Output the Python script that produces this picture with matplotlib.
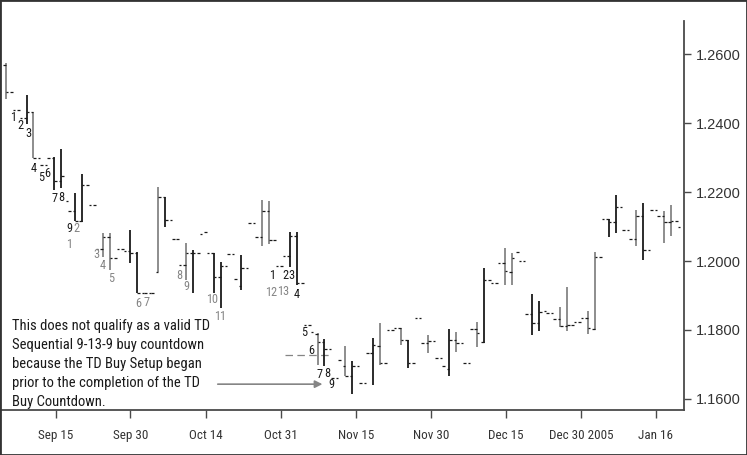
import numpy as np
import matplotlib
matplotlib.use('Agg')
import matplotlib.pyplot as plt
from matplotlib import font_manager
from matplotlib.font_manager import FontProperties
from matplotlib.patches import Rectangle

# EUR/USD daily bars, Sep 2004 - Jan 2005
opens = [1.2568, 1.2490, 1.2438, 1.2414, 1.2432, 1.2299, 1.2278, 1.2299, 1.2232, 1.2174,
         1.2145, 1.2116, 1.2220, 1.2162, 1.2035, 1.2070, 1.2009, 1.2035, 1.2029, 1.2023,
         1.1907, 1.1907, 1.1968, 1.2186, 1.2119, 1.2064, 1.1988, 1.2023, 1.2023, 1.2084,
         1.2023, 1.1954, 1.1986, 1.2020, 1.1928, 1.1980, 1.2110, 1.2070, 1.2145, 1.2061,
         1.1986, 1.2014, 1.2072, 1.1936, 1.1814, 1.1788, 1.1765, 1.1745, 1.1661, 1.1696,
         1.1667, 1.1696, 1.1646, 1.1733, 1.1754, 1.1704, 1.1800, 1.1806, 1.1771, 1.1704,
         1.1835, 1.1762, 1.1768, 1.1719, 1.1687, 1.1771, 1.1762, 1.1704, 1.1803, 1.1765,
         1.1945, 1.1936, 1.1994, 1.1968, 1.2026, 1.2000, 1.1846, 1.1820, 1.1855, 1.1849,
         1.1832, 1.1812, 1.1814, 1.1823, 1.1835, 1.1803, 1.2012, 1.2122, 1.2113, 1.2157,
         1.2090, 1.2064, 1.2130, 1.2032, 1.2148, 1.2130, 1.2113, 1.2116]
closes = [1.2490, 1.2438, 1.2414, 1.2432, 1.2299, 1.2278, 1.2299, 1.2232, 1.2246, 1.2145,
          1.2116, 1.2220, 1.2162, 1.2035, 1.2070, 1.2009, 1.2035, 1.2029, 1.2023, 1.1907,
          1.1907, 1.1907, 1.2186, 1.2119, 1.2064, 1.1988, 1.2023, 1.2023, 1.2078, 1.2023,
          1.1954, 1.1986, 1.2020, 1.1948, 1.1980, 1.2110, 1.2070, 1.2145, 1.2061, 1.1986,
          1.2014, 1.2072, 1.1936, 1.1814, 1.1794, 1.1765, 1.1745, 1.1661, 1.1713, 1.1667,
          1.1696, 1.1646, 1.1733, 1.1757, 1.1704, 1.1800, 1.1806, 1.1771, 1.1704, 1.1835,
          1.1762, 1.1768, 1.1719, 1.1696, 1.1771, 1.1762, 1.1704, 1.1803, 1.1791, 1.1945,
          1.1936, 1.1994, 1.1971, 1.2009, 1.2000, 1.1846, 1.1820, 1.1852, 1.1849, 1.1832,
          1.1812, 1.1814, 1.1823, 1.1835, 1.1806, 1.2012, 1.2122, 1.2113, 1.2157, 1.2090,
          1.2064, 1.2130, 1.2032, 1.2148, 1.2130, 1.2113, 1.2116, 1.2099]
# None = the bar's range line is not visible in the picture
highs = [1.2574, None, None, 1.2481, 1.2432, None, None, 1.2301, 1.2325, None,
         1.2197, 1.2252, None, None, 1.2081, 1.2081, None, None, 1.2090, 1.2026,
         None, None, 1.2214, 1.2186, None, None, 1.2052, 1.2032, None, None,
         1.2023, 1.1997, None, None, 1.2017, None, None, 1.2177, 1.2174, None,
         None, 1.2084, 1.2084, None, None, 1.1791, 1.1774, None, None, 1.1754,
         1.1710, None, None, 1.1777, 1.1820, None, None, 1.1806, 1.1771, None,
         None, 1.1786, None, None, 1.1803, 1.1794, None, None, 1.1823, 1.1980,
         None, None, 1.2038, 1.2023, None, None, 1.1904, 1.1884, None, None,
         1.1867, 1.1925, None, None, 1.1855, 1.2026, None, 1.2122, 1.2191, None,
         None, 1.2148, 1.2168, None, None, 1.2145, 1.2162, None]
lows = [1.2470, None, None, 1.2397, 1.2299, None, None, 1.2206, 1.2212, None,
        1.2116, 1.2113, None, None, 1.2012, 1.1974, None, None, 1.1994, 1.1907,
        None, None, 1.1968, 1.2099, None, None, 1.1945, 1.1907, None, None,
        1.1907, 1.1864, None, None, 1.1916, None, None, 1.2043, 1.2049, None,
        None, 1.1983, 1.1930, None, None, 1.1699, 1.1696, None, None, 1.1667,
        1.1614, None, None, 1.1641, 1.1699, None, None, 1.1757, 1.1690, None,
        None, 1.1733, None, None, 1.1667, 1.1736, None, None, 1.1751, 1.1762,
        None, None, 1.1930, 1.1930, None, None, 1.1786, 1.1797, None, None,
        1.1809, 1.1797, None, None, 1.1788, 1.1800, None, 1.2070, 1.2081, None,
        None, 1.2043, 1.2003, None, None, 1.2052, 1.2072, None]
tones = list("g..kg..kk." "kk..gg..kk" "..gk..gk.." "kk..k..gg." ".kk..gk..g"
             "k..kg..gk." ".g..kg..gk" "..gg..kk.." "gg..gg.kk." ".gk..gg.")

# TD Sequential counts: (text, bar position, price level)
setup_labels = [('1', 1.13, 1.2416), ('2', 2.06, 1.2394), ('3', 3.22, 1.2371),
                ('4', 4.08, 1.2267), ('5', 5.09, 1.2243), ('6', 5.96, 1.2255),
                ('7', 7.04, 1.2180), ('8', 8.05, 1.2183), ('9', 9.13, 1.2093),
                ('1', 38.5, 1.1957), ('2', 40.3, 1.1957), ('3', 41.17, 1.1957),
                ('4', 41.96, 1.1904), ('5', 43.1, 1.1794), ('6', 44.05, 1.1742),
                ('7', 45.35, 1.1672), ('8', 46.36, 1.1675), ('9', 47.0, 1.1641)]
countdown_labels = [('1', 9.13, 1.2049), ('2', 10.14, 1.2093), ('3', 13.03, 1.2020),
                    ('4', 14.04, 1.1986), ('5', 15.19, 1.1948), ('6', 19.09, 1.1878),
                    ('7', 20.25, 1.1881), ('8', 25.01, 1.1957), ('9', 26.02, 1.1925),
                    ('10', 29.84, 1.1887), ('11', 31.0, 1.1838), ('12', 38.35, 1.1910),
                    ('13', 40.01, 1.1913)]

setup_level = 1.1728
setup_level_span = (40.3, 47.1)

xtick_pos = [7.2, 18.0, 28.9, 39.7, 50.5, 61.4, 72.2, 83.0, 93.8]
xtick_labels = ['Sep 15', 'Sep 30', 'Oct 14', 'Oct 31', 'Nov 15', 'Nov 30',
                'Dec 15', 'Dec 30 2005', 'Jan 16']
yticks = [1.16, 1.18, 1.20, 1.22, 1.24, 1.26]

note_lines = ['This does not qualify as a valid TD',
              'Sequential 9-13-9 buy countdown',
              'because the TD Buy Setup began',
              'prior to the completion of the TD',
              'Buy Countdown.']
note_baselines = [1.1800, 1.1744, 1.1689, 1.1634, 1.1581]


def pick_narrow():
    prefs = ['liberation', 'roboto', 'noto', 'open', 'lato', 'dejavu']
    found = []
    for f in font_manager.fontManager.ttflist:
        fn = f.fname.lower()
        if not ('narrow' in fn or 'condensed' in fn or f.stretch in ('condensed', 'semi-condensed')):
            continue
        if f.style != 'normal' or f.weight not in (400, 'normal', 'regular', 'book'):
            continue
        rank = next((i for i, p in enumerate(prefs) if p in f.name.lower()), len(prefs))
        found.append((rank, f.fname))
    if found:
        return FontProperties(fname=sorted(found)[0][1])
    return FontProperties(family='Liberation Sans')


DARK = '#1a1a1a'
GREY = '#858585'
AXC = '#4a4a4a'

fig = plt.figure(figsize=(7.47, 4.55), dpi=100)
ax = fig.add_axes([1 / 747, 45 / 455, 683 / 747, 389 / 455])
ax.set_xlim(-0.68, 97.88)
ax.set_ylim(1.15681, 1.26957)

renderer = fig.canvas.get_renderer()
base_fp = pick_narrow()


def fitted(s, width_px):
    fp = base_fp.copy()
    fp.set_size(10)
    wpx = renderer.get_text_width_height_descent(s, fp, ismath=False)[0]
    fp.set_size(10 * width_px / wpx)
    return fp


note_fp = fitted(note_lines[0], 196)
count_fp = fitted('1213', 24)
xtick_fp = fitted('Dec 30 2005', 64)

day = np.arange(len(opens))
o = np.array(opens)
c = np.array(closes)
h = np.array(highs, dtype=float)
l = np.array(lows, dtype=float)
tone = np.array(tones)
w = 0.36

for t, col in (('g', GREY), ('k', DARK)):
    m = (tone == t) & ~np.isnan(h)
    ax.vlines(day[m], l[m], h[m], color=col, lw=1.3, zorder=3)
ax.hlines(o, day - w, day, color=DARK, lw=0.9, zorder=3)
ax.hlines(c, day, day + w, color=DARK, lw=0.9, zorder=3)

ax.hlines(setup_level, *setup_level_span, color=GREY, lw=0.9,
          linestyles=(0, (6, 3.5)), zorder=2)

for txt, x, y in setup_labels:
    ax.text(x, y, txt, ha='center', va='center', color=DARK, fontproperties=count_fp)
for txt, x, y in countdown_labels:
    ax.text(x, y, txt, ha='center', va='center', color=GREY, fontproperties=count_fp)

for line, yb in zip(note_lines, note_baselines):
    ax.text(0.9, yb, line, ha='left', va='baseline', color=DARK, fontproperties=note_fp)
ax.annotate('', xy=(45.7, 1.1643), xytext=(30.6, 1.1643),
            arrowprops=dict(arrowstyle='-|>', color=GREY, lw=1.2, mutation_scale=11,
                            shrinkA=0, shrinkB=0))

for s in ('top', 'left'):
    ax.spines[s].set_visible(False)
for s in ('right', 'bottom'):
    ax.spines[s].set_color(AXC)
    ax.spines[s].set_linewidth(1.3)

ax.yaxis.tick_right()
ax.set_yticks(yticks)
ax.set_yticklabels(['%.4f' % v for v in yticks], family='Liberation Sans')
ax.tick_params(axis='y', direction='out', length=5, width=1, color=AXC,
               labelsize=10.5, labelcolor='#333333', pad=3.5)
ax.set_xticks(xtick_pos)
ax.set_xticklabels(xtick_labels, fontproperties=xtick_fp)
ax.tick_params(axis='x', direction='out', length=6, width=1, color=AXC,
               labelcolor='#333333', pad=8)

fig.add_artist(Rectangle((0, 0), 1, 1, transform=fig.transFigure, fill=False,
                         ec='#333333', lw=2))

fig.savefig('out.png', dpi=100)
